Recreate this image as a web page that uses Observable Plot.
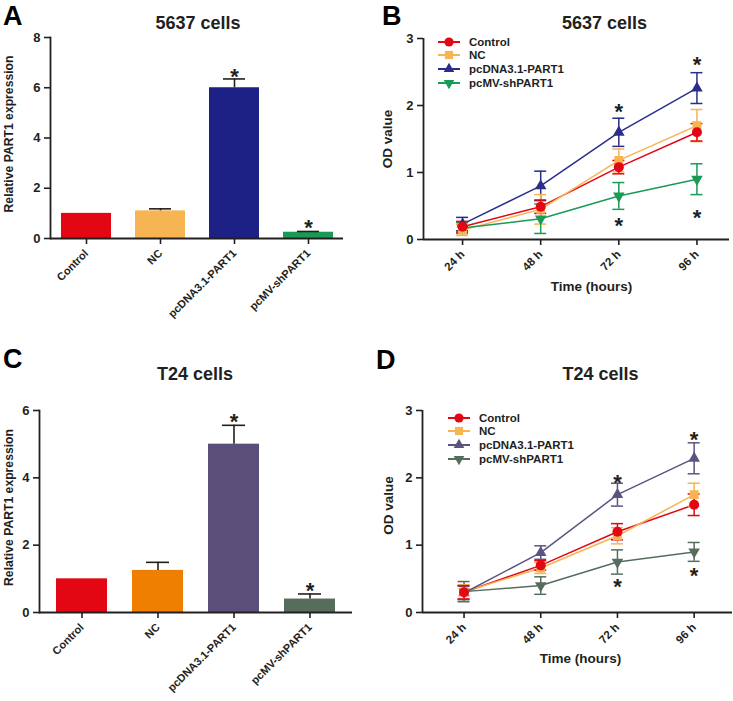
<!DOCTYPE html>
<html><head><meta charset="utf-8">
<script src="https://cdn.jsdelivr.net/npm/d3@7"></script>
<script src="https://cdn.jsdelivr.net/npm/@observablehq/plot@0.6"></script>
<style>
html,body{margin:0;padding:0;background:#fff;}
#root{position:relative;width:733px;height:701px;overflow:hidden;font-family:'Liberation Sans',Arial,sans-serif;}
.panel{position:absolute;}
#overlay{position:absolute;left:0;top:0;pointer-events:none;}
</style></head><body><div id="root"></div>
<script>
// ---------- data ----------
const categories = ["Control", "NC", "pcDNA3.1-PART1", "pcMV-shPART1"];
const exprA = [1.0, 1.1, 6.0, 0.25];
const errA  = [0, 0.08, 0.35, 0.03];
const starA = [null, null, 6.65, 0.64];
const exprC = [1.0, 1.25, 5.0, 0.4];
const errC  = [0, 0.24, 0.56, 0.15];
const starC = [null, null, 5.82, 0.8];

const times = [24, 48, 72, 96];
const series = ["Control", "NC", "pcDNA3.1-PART1", "pcMV-shPART1"];

const odB_Control = [0.19, 0.49, 1.08, 1.60];
const errB_Control = [0.08, 0.10, 0.10, 0.13];
const odB_NC = [0.14, 0.45, 1.18, 1.70];
const errB_NC = [0.08, 0.22, 0.17, 0.24];
const odB_pcDNA = [0.23, 0.80, 1.60, 2.26];
const errB_pcDNA = [0.10, 0.22, 0.21, 0.23];
const odB_pcMV = [0.17, 0.31, 0.65, 0.90];
const errB_pcMV = [0.08, 0.22, 0.20, 0.23];
const starsB_time = [72, 72, 96, 96];
const starsB_y = [1.98, 0.29, 2.68, 0.41];

const odD_Control = [0.30, 0.70, 1.20, 1.60];
const errD_Control = [0.10, 0.07, 0.12, 0.16];
const odD_NC = [0.31, 0.66, 1.14, 1.75];
const errD_NC = [0.10, 0.08, 0.12, 0.17];
const odD_pcDNA = [0.29, 0.89, 1.75, 2.29];
const errD_pcDNA = [0.10, 0.10, 0.17, 0.23];
const odD_pcMV = [0.31, 0.40, 0.75, 0.90];
const errD_pcMV = [0.15, 0.13, 0.18, 0.14];
const starsD_time = [72, 72, 96, 96];
const starsD_y = [2.0, 0.46, 2.65, 0.63];

// ---------- styles ----------
const INK = "#231f20";
const FONT = "'Liberation Sans', Arial, Helvetica, sans-serif";
const colorsA = {"Control": "#e30613", "NC": "#f7b452", "pcDNA3.1-PART1": "#1d2186", "pcMV-shPART1": "#1b9a55"};
const colorsB = {"Control": "#e30613", "NC": "#f7b452", "pcDNA3.1-PART1": "#2b2d8a", "pcMV-shPART1": "#1b9a55"};
const colorsC = {"Control": "#e30613", "NC": "#ef7f00", "pcDNA3.1-PART1": "#5a4f78", "pcMV-shPART1": "#566d5c"};
const colorsD = {"Control": "#e30613", "NC": "#f7b452", "pcDNA3.1-PART1": "#5b5480", "pcMV-shPART1": "#566d5c"};
const symbols = {"Control": ["circle", 0, 5], "NC": ["square", 0, 5], "pcDNA3.1-PART1": ["triangle", 0, 4.3], "pcMV-shPART1": ["triangle", 180, 4.3]};

const root = document.getElementById("root");
const baseStyle = {fontFamily: FONT, fontWeight: "bold", fontSize: "12px", color: INK, background: "transparent", overflow: "visible"};
const intFmt = d => String(d);
const STAR = 22;

function place(node, left, top) {
  node.classList.add("panel");
  node.style.left = left + "px";
  node.style.top = top + "px";
  root.appendChild(node);
}

function barPanel(cfg) {
  const rows = categories.map((c, i) => ({cat: c, value: cfg.values[i], err: cfg.errs[i], star: cfg.stars[i]}));
  const withErr = rows.filter(d => d.err > 0);
  return Plot.plot({
    width: cfg.width, height: cfg.height,
    marginLeft: cfg.m[0], marginRight: cfg.m[1], marginTop: cfg.m[2], marginBottom: cfg.m[3],
    style: baseStyle,
    color: {type: "identity"},
    x: {domain: categories, paddingInner: cfg.pi, paddingOuter: cfg.po},
    y: {domain: cfg.ydomain},
    marks: [
      Plot.barY(rows, {x: "cat", y: "value", fill: d => cfg.colors[d.cat]}),
      Plot.ruleX(withErr, {x: "cat", y1: "value", y2: d => d.value + d.err, stroke: INK, strokeWidth: 1.6}),
      Plot.tickY(withErr, {x: "cat", y: d => d.value + d.err, stroke: INK, strokeWidth: 1.6, inset: 14}),
      Plot.text(rows.filter(d => d.star != null), {x: "cat", y: "star", text: () => "*", fontSize: STAR, fontWeight: "bold", lineAnchor: "middle", dy: 5.5, fill: INK}),
      Plot.axisY({ticks: cfg.yticks, tickFormat: intFmt, tickSize: 6, tickPadding: 4, fontSize: 13, label: null, strokeWidth: 1.6}),
      Plot.axisX({tickRotate: -45, tickSize: 6, tickPadding: 7, fontSize: 11, label: null, strokeWidth: 1.6}),
      Plot.ruleY([0], {stroke: INK, strokeWidth: 1.8}),
      Plot.frame({anchor: "left", stroke: INK, strokeWidth: 1.8}),
      Plot.text([cfg.ylabel], {frameAnchor: "left", rotate: -90, textAnchor: "middle", lineAnchor: "middle", dx: cfg.ylab[0], dy: cfg.ylab[1], fontSize: 12.2, fontWeight: "bold", fill: INK}),
      Plot.text([cfg.title], {frameAnchor: "top", textAnchor: "middle", lineAnchor: "bottom", dx: cfg.tit[0], dy: cfg.tit[1], fontSize: 18, fontWeight: "bold", fill: INK})
    ]
  });
}

function linePanel(cfg) {
  const rows = [];
  series.forEach(s => times.forEach((t, j) => rows.push({series: s, time: t, value: cfg.values[s][j], err: cfg.errs[s][j]})));
  const order = series.slice().reverse();
  const marks = [
    Plot.line(rows, {x: "time", y: "value", z: "series", stroke: d => cfg.colors[d.series], strokeWidth: 1.5})
  ];
  for (const s of order) {
    const r = rows.filter(d => d.series === s);
    const col = cfg.colors[s];
    marks.push(Plot.ruleX(r, {x: "time", y1: d => d.value - d.err, y2: d => d.value + d.err, stroke: col, strokeWidth: 1.5}));
    marks.push(Plot.ruleY(r, {x1: "time", x2: "time", y: d => d.value + d.err, stroke: col, strokeWidth: 1.5, insetLeft: -6, insetRight: -6}));
    marks.push(Plot.ruleY(r, {x1: "time", x2: "time", y: d => d.value - d.err, stroke: col, strokeWidth: 1.5, insetLeft: -6, insetRight: -6}));
  }
  for (const s of order) {
    const r = rows.filter(d => d.series === s);
    const [sym, rot, rad] = symbols[s];
    marks.push(Plot.dot(r, {x: "time", y: "value", symbol: sym, rotate: rot, r: rad, fill: cfg.colors[s], stroke: "none"}));
  }
  const stars = cfg.starT.map((t, i) => ({time: t, y: cfg.starY[i]}));
  marks.push(
    Plot.text(stars, {x: "time", y: "y", text: () => "*", fontSize: STAR, fontWeight: "bold", lineAnchor: "middle", dy: 5.5, fill: INK}),
    Plot.axisY({ticks: [0, 1, 2, 3], tickFormat: intFmt, tickSize: 6, tickPadding: 4, fontSize: 13, label: null, strokeWidth: 1.6}),
    Plot.axisX({ticks: times, tickFormat: d => d + " h", tickRotate: -45, tickSize: 6, tickPadding: 7, fontSize: 11.5, label: null, strokeWidth: 1.6}),
    Plot.ruleY([0], {stroke: INK, strokeWidth: 1.8}),
    Plot.ruleX([cfg.xdomain[0]], {stroke: INK, strokeWidth: 1.8}),
    Plot.text(["OD value"], {frameAnchor: "left", rotate: -90, textAnchor: "middle", lineAnchor: "middle", dx: cfg.ylab[0], dy: cfg.ylab[1], fontSize: 13.5, fontWeight: "bold", fill: INK}),
    Plot.text(["Time (hours)"], {frameAnchor: "bottom", textAnchor: "middle", lineAnchor: "bottom", dx: cfg.xlab[0], dy: cfg.xlab[1], fontSize: 13.5, fontWeight: "bold", fill: INK}),
    Plot.text([cfg.title], {frameAnchor: "top", textAnchor: "middle", lineAnchor: "bottom", dx: cfg.tit[0], dy: cfg.tit[1], fontSize: 18, fontWeight: "bold", fill: INK})
  );
  return Plot.plot({
    width: cfg.width, height: cfg.height,
    marginLeft: cfg.m[0], marginRight: cfg.m[1], marginTop: cfg.m[2], marginBottom: cfg.m[3],
    style: baseStyle,
    color: {type: "identity"},
    x: {domain: cfg.xdomain},
    y: {domain: [0, 3]},
    marks
  });
}

place(barPanel({
  width: 366, height: 340, m: [50, 23, 37, 102], pi: 0.33, po: 0.12,
  values: exprA, errs: errA, stars: starA, colors: colorsA,
  ydomain: [0, 8], yticks: [0, 2, 4, 6, 8],
  ylabel: "Relative PART1 expression", ylab: [-41, -4],
  title: "5637 cells", tit: [1, -9]
}), 0, 0);

place(linePanel({
  width: 363, height: 340, m: [53, 4, 38, 101], xdomain: [12, 106],
  values: {"Control": odB_Control, "NC": odB_NC, "pcDNA3.1-PART1": odB_pcDNA, "pcMV-shPART1": odB_pcMV},
  errs: {"Control": errB_Control, "NC": errB_NC, "pcDNA3.1-PART1": errB_pcDNA, "pcMV-shPART1": errB_pcMV},
  colors: colorsB, starT: starsB_time, starY: starsB_y,
  ylab: [-36, 0], xlab: [15, 51], title: "5637 cells", tit: [28, -10]
}), 370, 0);

place(barPanel({
  width: 366, height: 361, m: [39, 14, 70, 89], pi: 0.335, po: 0.2,
  values: exprC, errs: errC, stars: starC, colors: colorsC,
  ydomain: [0, 6], yticks: [0, 2, 4, 6],
  ylabel: "Relative PART1 expression", ylab: [-30, -4],
  title: "T24 cells", tit: [-1, -31]
}), 0, 340);

place(linePanel({
  width: 363, height: 361, m: [52, 1, 70, 89], xdomain: [11, 108],
  values: {"Control": odD_Control, "NC": odD_NC, "pcDNA3.1-PART1": odD_pcDNA, "pcMV-shPART1": odD_pcMV},
  errs: {"Control": errD_Control, "NC": errD_NC, "pcDNA3.1-PART1": errD_pcDNA, "pcMV-shPART1": errD_pcMV},
  colors: colorsD, starT: starsD_time, starY: starsD_y,
  ylab: [-34, -6], xlab: [3, 50], title: "T24 cells", tit: [23, -31]
}), 370, 340);

// ---------- overlay: panel letters and legends ----------
const svg = d3.select(root).append("svg").attr("id", "overlay").attr("width", 733).attr("height", 701)
  .style("font-family", FONT).style("font-weight", "bold");
const letters = [["A", 3, 25], ["B", 382, 25], ["C", 3, 368], ["D", 376, 369]];
svg.selectAll("text.letter").data(letters).join("text").attr("class", "letter")
  .attr("x", d => d[1]).attr("y", d => d[2])
  .attr("font-size", 27).attr("fill", "#000").text(d => d[0]);

function legend(cfg) {
  const g = svg.append("g");
  const symType = {"circle": d3.symbolCircle, "square": d3.symbolSquare, "triangle": d3.symbolTriangle};
  series.forEach((s, i) => {
    const y = cfg.ys[i];
    const col = cfg.colors[s];
    g.append("line").attr("x1", cfg.x1).attr("x2", cfg.x2).attr("y1", y).attr("y2", y)
      .attr("stroke", col).attr("stroke-width", 2);
    const [sym, rot, rad] = symbols[s];
    g.append("path").attr("d", d3.symbol(symType[sym], Math.PI * rad * rad * 0.85)())
      .attr("transform", `translate(${(cfg.x1 + cfg.x2) / 2},${y}) rotate(${rot})`).attr("fill", col);
    g.append("text").attr("x", cfg.tx).attr("y", y).attr("dy", "0.35em")
      .attr("font-size", cfg.fs).attr("fill", INK).text(s);
  });
}
legend({x1: 438, x2: 460, tx: 469, ys: [42, 55, 69, 83], colors: colorsB, fs: 11.5});
legend({x1: 448, x2: 470, tx: 479, ys: [418, 431, 445, 459], colors: colorsD, fs: 11.5});
</script></body></html>
